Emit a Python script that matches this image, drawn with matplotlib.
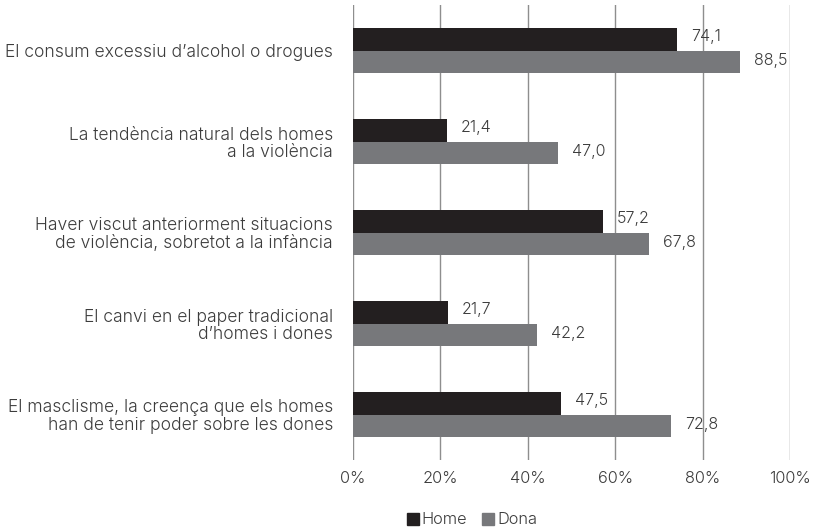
import matplotlib
matplotlib.use("Agg")
import matplotlib.pyplot as plt
import numpy as np
from matplotlib.patches import Patch

categories = [
    "El consum excessiu d\u2019alcohol o drogues",
    "La tend\u00e8ncia natural dels homes\na la viol\u00e8ncia",
    "Haver viscut anteriorment situacions\nde viol\u00e8ncia, sobretot a la inf\u00e0ncia",
    "El canvi en el paper tradicional\nd\u2019homes i dones",
    "El masclisme, la creen\u00e7a que els homes\nhan de tenir poder sobre les dones",
]
home = [74.1, 21.4, 57.2, 21.7, 47.5]
dona = [88.5, 47.0, 67.8, 42.2, 72.8]
xticks = [0, 20, 40, 60, 80, 100]
xtick_labels = ["0%", "20%", "40%", "60%", "80%", "100%"]

plt.rcParams['font.family'] = ['Inter', 'DejaVu Sans']
plt.rcParams['font.weight'] = 300
text_color = "#3c3c3c"
fs_cat = 12.6
fs_val = 11.6
fs_tick = 11.8

fig = plt.figure(figsize=(8.2, 5.27), dpi=100)
ax = fig.add_axes([353/820, 1-460/527, 437/820, 455/527])

y = np.arange(len(categories))
h = 0.25
c_home = "#231f20"
c_dona = "#77787b"
ax.barh(y - h/2, home, height=h, color=c_home, zorder=3)
ax.barh(y + h/2, dona, height=h, color=c_dona, zorder=3)

for yi, v in zip(y, home):
    ax.text(v + 3.2, yi - h/2 - 0.03, f"{v:.1f}".replace(".", ","), va="center", ha="left",
            fontsize=fs_val, color=text_color, weight=300, zorder=4)
for yi, v in zip(y, dona):
    ax.text(v + 3.2, yi + h/2 - 0.01, f"{v:.1f}".replace(".", ","), va="center", ha="left",
            fontsize=fs_val, color=text_color, weight=300, zorder=4)

ax.set_xlim(0, 100)
ax.set_ylim(len(categories) - 0.5, -0.5)
ax.set_xticks(xticks)
ax.set_xticklabels(xtick_labels, fontsize=fs_tick, color=text_color, weight=300)
ax.set_yticks(y)
ax.set_yticklabels(categories, fontsize=fs_cat, color=text_color, weight=300, linespacing=1.05)
ax.tick_params(axis="y", length=0, pad=14.4)
ax.tick_params(axis="x", length=0, pad=8)
for s in ax.spines.values():
    s.set_visible(False)
ax.grid(axis="x", color="#8e8e8e", linewidth=1.0, zorder=0)
ax.set_axisbelow(True)

handles = [Patch(color=c_home, label="Home"), Patch(color=c_dona, label="Dona")]
fig.legend(handles=handles, loc="center", bbox_to_anchor=(472/820, 1-520/527), ncol=2,
           frameon=False, prop={"size": fs_tick, "weight": 300}, handlelength=0.7, handleheight=0.7,
           handletextpad=0.2, columnspacing=0.9, labelcolor=text_color)

fig.savefig("out.png", dpi=100)
